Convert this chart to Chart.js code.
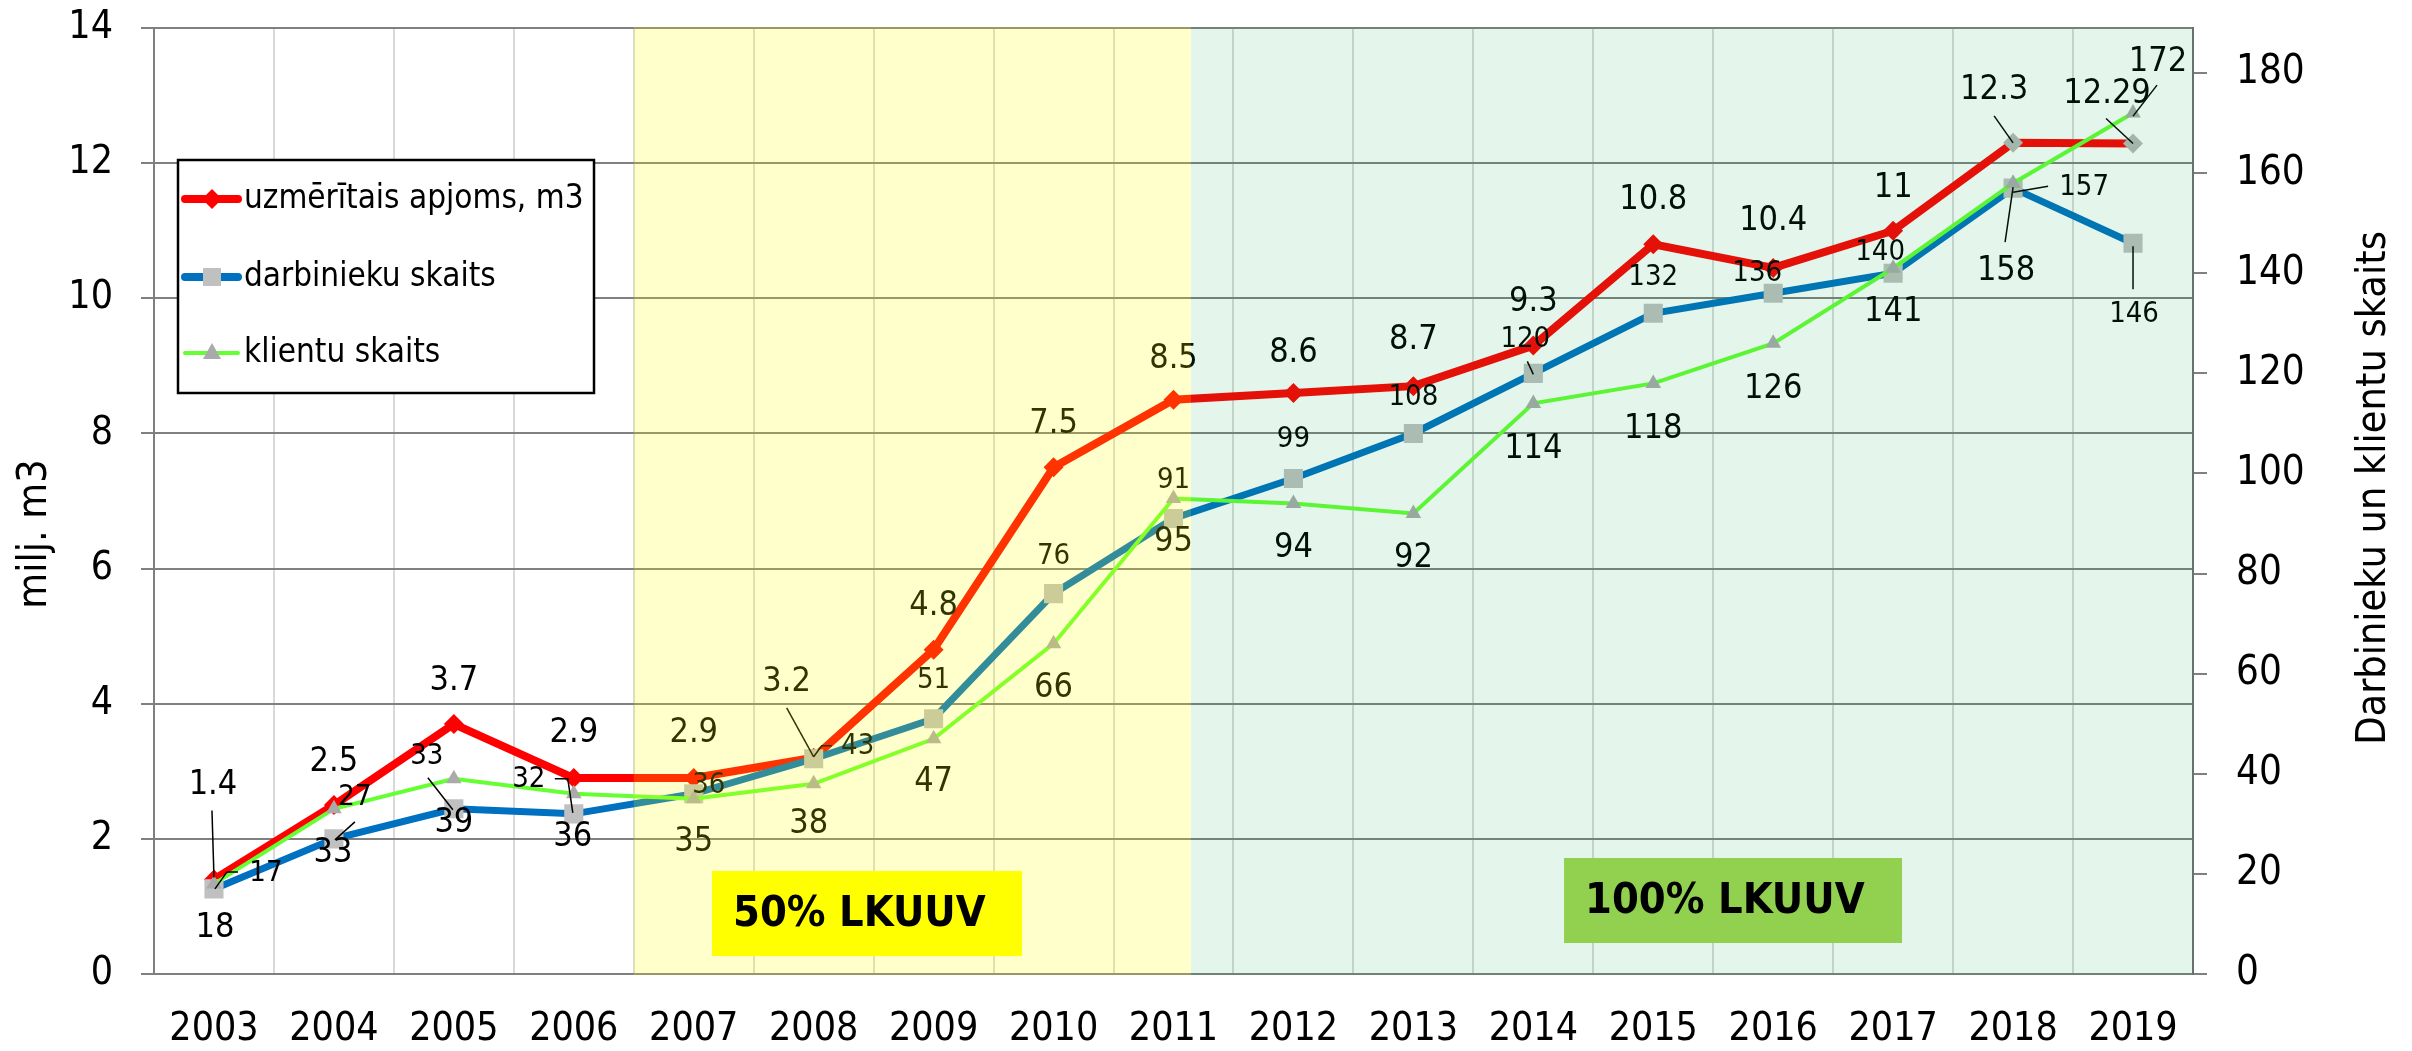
<!DOCTYPE html>
<html>
<head>
<meta charset="utf-8">
<script src="https://cdn.jsdelivr.net/npm/chart.js@4.4.1/dist/chart.umd.min.js"></script>
<style>
  html, body { margin: 0; padding: 0; background: #fff; }
  #wrap { width: 2412px; height: 1051px; position: relative; }
</style>
</head>
<body>
<div id="wrap"><canvas id="lkuuvChart"></canvas></div>
<script>
// --- data ---
const years = ['2003', '2004', '2005', '2006', '2007', '2008', '2009', '2010', '2011',
               '2012', '2013', '2014', '2015', '2016', '2017', '2018', '2019'];
const volume = [1.4, 2.5, 3.7, 2.9, 2.9, 3.2, 4.8, 7.5, 8.5, 8.6, 8.7, 9.3, 10.8, 10.45, 11, 12.3, 12.29];
const volumeText = ['1.4', '2.5', '3.7', '2.9', '2.9', '3.2', '4.8', '7.5', '8.5', '8.6', '8.7',
                    '9.3', '10.8', '10.4', '11', '12.3', '12.29'];
const employees = [17, 27, 33, 32, 36, 43, 51, 76, 91, 99, 108, 120, 132, 136, 140, 157, 146];
const clients = [18, 33, 39, 36, 35, 38, 47, 66, 95, 94, 92, 114, 118, 126, 141, 158, 172];

const leftMax = 14, leftStep = 2;
const rightMax = 189, rightStep = 20;

// label placement (pixel offsets from each point) and leader lines
const volumeLabelPos = [[-1,-94],[0,-43],[0,-43],[0,-45],[0,-45],[-27,-76],[0,-43],[0,-43],[0,-40],
                        [0,-40],[0,-46],[0,-43],[0,-44],[0,-47],[0,-43],[-19,-53],[-26,-49]];
const employeeLabelPos = [[52,-15],[21,-41],[-27,-52],[-45,-34],[15,-8],[44,-12],[0,-38],[0,-37],[0,-38],
                          [0,-39],[0,-36],[-8,-34],[0,-36],[-16,-20],[-13,-21],[71,-1],[1,71]];
const clientLabelPos = [[1,44],[-1,44],[0,44],[-1,43],[0,43],[-5,40],[0,43],[0,45],[0,44],
                        [0,45],[0,45],[0,46],[0,46],[0,46],[0,44],[-7,88],[25,-51]];
const volumeLeaders = { 0: [[-2,-69],[0,-2]], 5: [[-27,-50],[0,-1]], 15: [[-19,-27],[0,0]], 16: [[-27,-25],[0,0]] };
const employeeLeaders = { 0: [[24,-17],[13,-17],[1,0]], 1: [[21,-17],[1,1]], 2: [[-26,-31],[-1,1]],
                          3: [[-19,-35],[-6,-35],[-1,-1]], 5: [[18,-13],[8,-13],[0,-2]],
                          11: [[-6,-12],[0,1]], 15: [[35,-2],[0,4]], 16: [[0,46],[0,3]] };
const clientLeaders = { 15: [[-8,59],[0,4]], 16: [[24,-28],[0,3]] };

// shaded periods (category index units) and the two notes on them
const bands = [
    { from: 3.5, to: 8.146, color: 'rgba(255,255,0,0.2)' },
    { from: 8.146, to: 16.5, color: 'rgba(0,160,80,0.105)' }
];
const notes = [
    { text: '50% LKUUV', from: 4.152, to: 6.737, top: 1.524, bottom: 0.266, color: '#FFFF00' },
    { text: '100% LKUUV', from: 11.256, to: 14.074, top: 1.717, bottom: 0.459, color: '#92D050' }
];

const FONT = '"DejaVu Sans Condensed", "DejaVu Sans", sans-serif';

function drawDataLabels(chart) {
    const ctx = chart.ctx;
    const series = [
        { idx: 0, texts: volumeText, pos: volumeLabelPos, leaders: volumeLeaders, size: 34 },
        { idx: 1, texts: employees.map(String), pos: employeeLabelPos, leaders: employeeLeaders, size: 29 },
        { idx: 2, texts: clients.map(String), pos: clientLabelPos, leaders: clientLeaders, size: 34 }
    ];
    ctx.save();
    ctx.textAlign = 'center';
    ctx.textBaseline = 'middle';
    ctx.fillStyle = '#000';
    ctx.strokeStyle = '#000';
    ctx.lineWidth = 1.5;
    series.forEach(s => {
        const meta = chart.getDatasetMeta(s.idx);
        ctx.font = s.size + 'px ' + FONT;
        meta.data.forEach((pt, i) => {
            const [dx, dy] = s.pos[i];
            ctx.fillText(s.texts[i], pt.x + dx, pt.y + dy);
            const ld = s.leaders[i];
            if (ld) {
                ctx.beginPath();
                ld.forEach(([lx, ly], k) => {
                    if (k === 0) ctx.moveTo(pt.x + lx, pt.y + ly);
                    else ctx.lineTo(pt.x + lx, pt.y + ly);
                });
                ctx.stroke();
            }
        });
    });
    ctx.restore();
}

function drawLegend(ctx) {
    ctx.save();
    ctx.fillStyle = '#fff';
    ctx.fillRect(178, 160, 416, 233);
    ctx.strokeStyle = '#000';
    ctx.lineWidth = 2.5;
    ctx.strokeRect(178, 160, 416, 233);
    const rows = [
        { y: 199, text: 'uzmērītais apjoms, m3', color: '#FF0000', width: 8, marker: 'diamond' },
        { y: 277, text: 'darbinieku skaits', color: '#0070C0', width: 8, marker: 'square' },
        { y: 353, text: 'klientu skaits', color: '#66FF33', width: 4, marker: 'triangle' }
    ];
    ctx.lineCap = 'round';
    rows.forEach(r => {
        ctx.strokeStyle = r.color;
        ctx.lineWidth = r.width;
        ctx.beginPath();
        ctx.moveTo(185, r.y);
        ctx.lineTo(238, r.y);
        ctx.stroke();
        ctx.beginPath();
        if (r.marker === 'diamond') {
            ctx.fillStyle = '#FF0000';
            ctx.moveTo(212, r.y - 10); ctx.lineTo(222, r.y); ctx.lineTo(212, r.y + 10); ctx.lineTo(202, r.y);
        } else if (r.marker === 'square') {
            ctx.fillStyle = '#C0C0C0';
            ctx.rect(203, r.y - 9, 18, 18);
        } else {
            ctx.fillStyle = '#AAAAAA';
            ctx.moveTo(212, r.y - 10); ctx.lineTo(221, r.y + 6); ctx.lineTo(203, r.y + 6);
        }
        ctx.closePath();
        ctx.fill();
        ctx.fillStyle = '#000';
        ctx.font = '33px ' + FONT;
        ctx.textAlign = 'left';
        ctx.textBaseline = 'middle';
        ctx.fillText(r.text, 244, r.y);
    });
    ctx.restore();
}

function drawRotatedTitle(ctx, text, x, y) {
    ctx.save();
    ctx.translate(x, y);
    ctx.rotate(-Math.PI / 2);
    ctx.font = '41px ' + FONT;
    ctx.fillStyle = '#000';
    ctx.textAlign = 'center';
    ctx.textBaseline = 'alphabetic';
    ctx.fillText(text, 0, 0);
    ctx.restore();
}

const overlayPlugin = {
    id: 'overlay',
    afterDatasetsDraw(chart) {
        const { ctx, chartArea: a, scales: { x, y } } = chart;
        drawDataLabels(chart);
        ctx.save();
        bands.forEach(b => {
            const x1 = x.getPixelForValue(b.from);
            const x2 = x.getPixelForValue(b.to);
            ctx.fillStyle = b.color;
            ctx.fillRect(x1, a.top - 1, x2 - x1, a.bottom - a.top + 2);
        });
        notes.forEach(n => {
            const x1 = x.getPixelForValue(n.from);
            const x2 = x.getPixelForValue(n.to);
            const y1 = y.getPixelForValue(n.top);
            const y2 = y.getPixelForValue(n.bottom);
            ctx.fillStyle = n.color;
            ctx.fillRect(x1, y1, x2 - x1, y2 - y1);
            ctx.fillStyle = '#000';
            ctx.font = 'bold 43px ' + FONT;
            ctx.textAlign = 'left';
            ctx.textBaseline = 'middle';
            ctx.fillText(n.text, x1 + 21, (y1 + y2) / 2 + 1);
        });
        ctx.restore();
    },
    afterDraw(chart) {
        const ctx = chart.ctx;
        drawLegend(ctx);
        drawRotatedTitle(ctx, 'milj. m3', 46, 534);
        drawRotatedTitle(ctx, 'Darbinieku un klientu skaits', 2385, 488);
    }
};

// fixed axis sizes so the plot area sits where it does in the reference
function fixWidth(w) {
    return s => { s.width = w; s.paddingTop = 0; s.paddingBottom = 0; };
}

const ctx = document.getElementById('lkuuvChart').getContext('2d');

new Chart(ctx, {
    type: 'line',
    data: {
        labels: years,
        datasets: [{
            label: 'uzmērītais apjoms, m3',
            data: volume,
            yAxisID: 'y',
            borderColor: '#FF0000',
            borderWidth: 8,
            pointStyle: 'rectRot',
            pointRadius: 10,
            pointBorderWidth: 0,
            pointBackgroundColor: c => c.dataIndex >= 15 ? '#B8B8B8' : '#FF0000',
            order: 3
        }, {
            label: 'darbinieku skaits',
            data: employees,
            yAxisID: 'y1',
            borderColor: '#0070C0',
            borderWidth: 7,
            pointStyle: 'rect',
            pointRadius: 13.5,
            pointBorderWidth: 0,
            pointBackgroundColor: '#C0C0C0',
            order: 2
        }, {
            label: 'klientu skaits',
            data: clients,
            yAxisID: 'y1',
            borderColor: '#66FF33',
            borderWidth: 4,
            pointStyle: 'triangle',
            pointRadius: 9,
            pointBorderWidth: 0,
            pointBackgroundColor: '#AAAAAA',
            order: 1
        }]
    },
    options: {
        responsive: true,
        maintainAspectRatio: false,
        animation: false,
        layout: { padding: { top: 28, left: 0, right: 0, bottom: 0 } },
        plugins: {
            legend: { display: false },
            tooltip: { enabled: false }
        },
        scales: {
            x: {
                offset: true,
                grid: { offset: true, color: '#D9D9D9', lineWidth: 2, drawTicks: false },
                border: { color: '#7F7F7F', width: 2 },
                ticks: { color: '#000', font: { family: FONT, size: 39 }, padding: 32, autoSkip: false, maxRotation: 0 },
                afterFit: s => { s.height = 77; s.paddingLeft = 0; s.paddingRight = 0; }
            },
            y: {
                position: 'left',
                min: 0,
                max: leftMax,
                ticks: { stepSize: leftStep, color: '#000', font: { family: FONT, size: 39 }, padding: 28 },
                grid: { color: '#808080', lineWidth: 2, tickLength: 13 },
                border: { color: '#7F7F7F', width: 2 },
                afterFit: fixWidth(154)
            },
            y1: {
                position: 'right',
                min: 0,
                max: rightMax,
                ticks: { stepSize: rightStep, includeBounds: false, color: '#000', font: { family: FONT, size: 40 }, padding: 29 },
                grid: { drawOnChartArea: false, color: '#808080', lineWidth: 2, tickLength: 14 },
                border: { color: '#6E6E6E', width: 2 },
                afterFit: fixWidth(219)
            }
        }
    },
    plugins: [overlayPlugin]
});
</script>
</body>
</html>
